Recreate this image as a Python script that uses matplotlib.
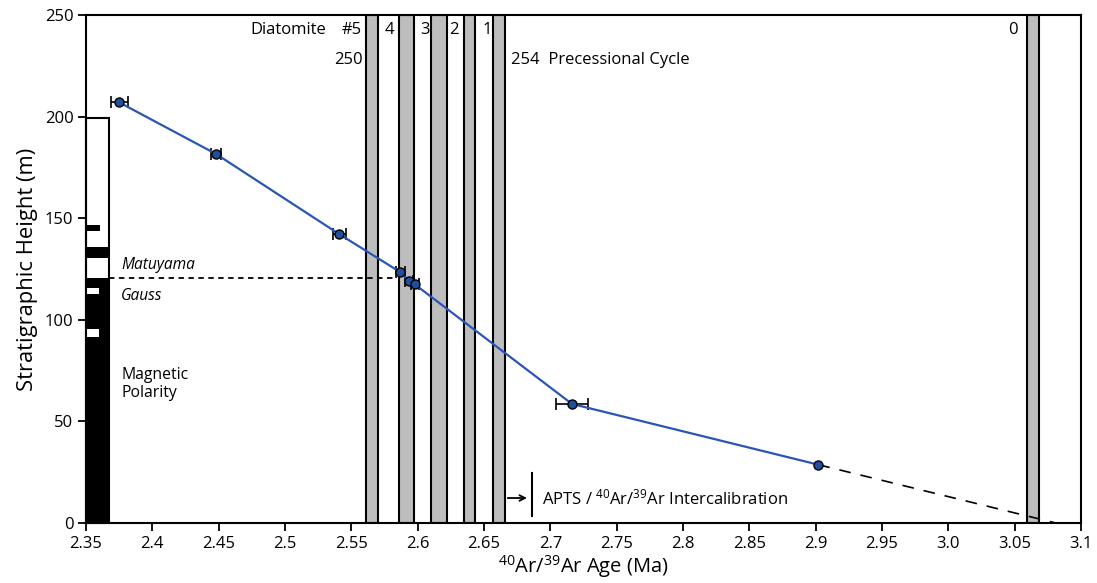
import numpy as np
import matplotlib.pyplot as plt

plt.rcParams['font.family'] = ['Open Sans', 'DejaVu Sans']
plt.rcParams['mathtext.fontset'] = 'custom'
plt.rcParams['mathtext.rm'] = 'Open Sans'
plt.rcParams['mathtext.it'] = 'Open Sans:italic'

# Ar/Ar ages (Ma) and stratigraphic heights (m)
age = [2.375, 2.448, 2.541, 2.587, 2.5937, 2.5977, 2.7163, 2.902]
height = [207.0, 181.6, 142.1, 123.4, 119.1, 117.5, 58.6, 28.7]
age_err = [0.0064, 0.004, 0.005, 0.0034, 0.003, 0.003, 0.012, 0.0]

# extrapolation to base
extrap_age = [2.902, 3.081]
extrap_height = [28.7, 0.0]

# diatomite bands (start, end age)
band_start = [2.561, 2.586, 2.610, 2.635, 2.6565, 3.059]
band_end = [2.570, 2.597, 2.622, 2.643, 2.6655, 3.068]
band_labels = ['#5', '4', '3', '2', '1', '0']
band_label_x = [2.5505, 2.5784, 2.6055, 2.6274, 2.6523, 3.0487]

# magnetic polarity: black (normal) intervals (bottom, top, width fraction)
pol_bottom = [0.0, 130.2, 143.5]
pol_top = [120.5, 135.7, 146.5]
pol_width = [1.0, 1.0, 0.6]
# white (reversed) inserts inside black
rev_bottom = [91.4, 112.7]
rev_top = [95.3, 115.5]
pol_top_all = 199.3
boundary_height = 120.5

fig = plt.figure(figsize=(10.97, 5.83), dpi=100)
ax = fig.add_axes([0.0784, 0.1029, 0.9070, 0.8714])
ax.set_xlim(2.35, 3.1)
ax.set_ylim(0, 250)

for a, b in zip(band_start, band_end):
    ax.axvspan(a, b, facecolor='#bdbdbd', edgecolor='black', lw=1.5, zorder=1)

# polarity column
col_w = 0.0173
ax.add_patch(plt.Rectangle((2.35, 0), col_w, pol_top_all, facecolor='white',
                           edgecolor='black', lw=1.5, zorder=2, clip_on=False))
for b, t, w in zip(pol_bottom, pol_top, pol_width):
    ax.add_patch(plt.Rectangle((2.35, b), col_w * w, t - b, facecolor='black',
                               edgecolor='none', zorder=3))
for b, t in zip(rev_bottom, rev_top):
    ax.add_patch(plt.Rectangle((2.3505, b), col_w * 0.55, t - b, facecolor='white',
                               edgecolor='none', zorder=4))

ax.plot([2.35 + col_w, 2.5845], [boundary_height, boundary_height], 'k',
        ls=(0, (3, 2.5)), lw=1.3, zorder=5)
ax.text(2.3765, 127, 'Matuyama', style='italic', fontsize=11.2, va='center')
ax.text(2.3765, 111.5, 'Gauss', style='italic', fontsize=11.2, va='center')
ax.text(2.3765, 68.5, 'Magnetic\nPolarity', fontsize=11.3, va='center',
        linespacing=1.2)

ax.plot(extrap_age, extrap_height, color='black', ls=(0, (7, 6)), lw=1.2, zorder=5)

# only points with a measured uncertainty get error bars
a_arr, h_arr, e_arr = np.array(age), np.array(height), np.array(age_err)
has_err = e_arr > 0
ax.errorbar(a_arr[has_err], h_arr[has_err], xerr=e_arr[has_err], fmt='none',
            ecolor='black', elinewidth=1.2, capsize=4, capthick=1.2, zorder=6)
ax.plot(age, height, color='#2b55b5', lw=1.6, zorder=7)
ax.plot(age, height, 'o', ms=6.5, mfc='#1f4f9e', mec='black', mew=1.0, zorder=8)

for lab, x in zip(band_labels, band_label_x):
    ax.text(x, 242.6, lab, ha='center', va='center', fontsize=12)
ax.text(2.5023, 242.6, 'Diatomite', ha='center', va='center', fontsize=12)
ax.text(2.5585, 227.8, '250', ha='right', va='center', fontsize=12)
ax.text(2.6703, 227.8, '254  Precessional Cycle', ha='left', va='center', fontsize=12)

# APTS arrow
ax.annotate('', xy=(2.6845, 12.3), xytext=(2.6658, 12.3),
            arrowprops=dict(arrowstyle='->', color='black', lw=1.3), zorder=6)
ax.plot([2.686, 2.686], [3.4, 24.6], 'k', lw=1.5, zorder=6)
ax.text(2.694, 12.3, 'APTS / $^{40}$Ar/$^{39}$Ar Intercalibration', va='center',
        fontsize=12)

xt = [2.35, 2.4, 2.45, 2.5, 2.55, 2.6, 2.65, 2.7, 2.75, 2.8, 2.85, 2.9, 2.95, 3.0, 3.05, 3.1]
xtl = ['2.35', '2.4', '2.45', '2.5', '2.55', '2.6', '2.65', '2.7', '2.75', '2.8',
       '2.85', '2.9', '2.95', '3.0', '3.05', '3.1']
ax.set_xticks(xt)
ax.set_xticklabels(xtl)
ax.set_yticks([0, 50, 100, 150, 200, 250])
ax.tick_params(labelsize=12, width=1.3, length=6, direction='out', pad=3)
for s in ax.spines.values():
    s.set_linewidth(1.5)
    s.set_zorder(10)

ax.set_xlabel('$^{40}$Ar/$^{39}$Ar Age (Ma)', fontsize=14.5, labelpad=1)
ax.set_ylabel('Stratigraphic Height (m)', fontsize=15.8, labelpad=5)

fig.savefig('out.png', dpi=100)
